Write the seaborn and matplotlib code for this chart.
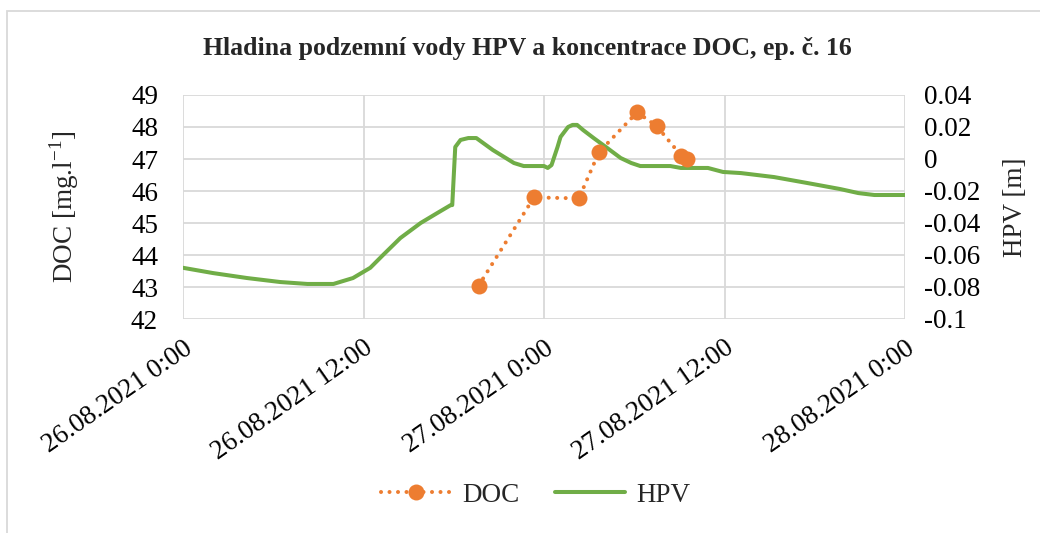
import matplotlib
matplotlib.use("Agg")
import matplotlib.pyplot as plt
import matplotlib.patches as mpatches
from matplotlib.lines import Line2D
import seaborn as sns
import pandas as pd
import numpy as np

# ---- data ----
start = pd.Timestamp("2021-08-26 00:00")
hpv_hours = [0.0, 2.0, 4.26, 6.47, 8.27, 10.0, 11.3, 12.45, 13.3, 14.45, 15.8, 16.9,
             17.8, 17.9, 18.1, 18.45, 18.97, 19.5, 20.6, 22.0, 22.65, 24.0, 24.25,
             24.5, 24.9, 25.1, 25.6, 25.9, 26.2, 26.6, 27.3, 28.2, 29.1, 29.8, 30.4,
             32.4, 33.1, 34.9, 35.9, 37.1, 39.3, 41.5, 43.7, 44.9, 45.96, 48.0]
hpv_values = [-0.068, -0.0713, -0.0744, -0.0769, -0.0781, -0.0781, -0.0744, -0.068,
              -0.060, -0.0494, -0.040, -0.0338, -0.0288, -0.0288, 0.0075, 0.0119,
              0.0131, 0.0131, 0.0056, -0.0025, -0.0044, -0.0044, -0.0056, -0.0038,
              0.0075, 0.0138, 0.020, 0.0213, 0.0213, 0.0181, 0.0131, 0.0069, 0.0006,
              -0.0025, -0.0044, -0.0044, -0.0056, -0.0056, -0.0081, -0.0088, -0.0113,
              -0.015, -0.0188, -0.0213, -0.0225, -0.0225]
doc_hours = [19.65, 23.33, 26.32, 27.65, 30.19, 31.49, 33.13, 33.49]
doc_values = [43.04, 45.80, 45.77, 47.21, 48.46, 48.03, 47.10, 46.99]
tick_hours = [0, 12, 24, 36, 48]
tick_labels = ["26.08.2021 0:00", "26.08.2021 12:00", "27.08.2021 0:00",
               "27.08.2021 12:00", "28.08.2021 0:00"]

hpv_df = pd.DataFrame({"time": start + pd.to_timedelta(hpv_hours, unit="h"),
                       "HPV": hpv_values})
doc_df = pd.DataFrame({"time": start + pd.to_timedelta(doc_hours, unit="h"),
                       "DOC": doc_values})
tick_times = start + pd.to_timedelta(tick_hours, unit="h")

sns.set_theme(style="white")
plt.rcParams["font.family"] = ["Liberation Serif", "DejaVu Serif"]
plt.rcParams["mathtext.fontset"] = "custom"
plt.rcParams["mathtext.rm"] = "Liberation Serif"

ORANGE = "#ED7D31"
GREEN = "#70AD47"
GRID = "#D9D9D9"
DOTS = (0, (0.01, 2.1))

fig = plt.figure(figsize=(10.4, 5.33), dpi=100)
ax = fig.add_axes([183/1040, 1-319/533, (905-183)/1040, (319-95)/533])
ax2 = ax.twinx()

sns.lineplot(data=hpv_df, x="time", y="HPV", ax=ax, color=GREEN, linewidth=2.9,
             legend=False, zorder=2)
sns.lineplot(data=doc_df, x="time", y="DOC", ax=ax2, color=ORANGE, linestyle=DOTS,
             linewidth=2.9, marker="o", markersize=11.5, markeredgewidth=0,
             dash_capstyle="round", legend=False, zorder=3)

# DOC axis on the left, HPV axis on the right
ax.yaxis.tick_right()
ax.yaxis.set_label_position("right")
ax2.yaxis.tick_left()
ax2.yaxis.set_label_position("left")

ax.set_ylim(-0.1, 0.04)
ax.set_yticks(np.arange(-0.1, 0.0401, 0.02))
ax.set_yticklabels(["-0.1", "-0.08", "-0.06", "-0.04", "-0.02", "0", "0.02", "0.04"])
ax2.set_ylim(42, 49)
ax2.set_yticks(range(42, 50))

ax.set_xlim(start, start + pd.Timedelta(hours=48))
ax.set_xticks(tick_times)
ax.set_xticklabels(tick_labels, rotation=35, ha="right", rotation_mode="anchor", fontsize=19.5)

for y in np.arange(-0.1, 0.0401, 0.02):
    ax.axhline(y, color=GRID, linewidth=1.3, zorder=0)
for t in tick_times:
    ax.axvline(t, color=GRID, linewidth=1.3, zorder=0)

for a in (ax, ax2):
    for s in a.spines.values():
        s.set_visible(False)
    a.tick_params(length=0, labelsize=19.5, colors="black")
    a.grid(False)
ax.tick_params(axis="x", pad=12)
ax.tick_params(axis="y", pad=14)
ax2.tick_params(axis="y", pad=18)

ax.set_xlabel("")
ax.set_ylabel("HPV [m]", fontsize=19.5, rotation=90, labelpad=16)
ax2.set_ylabel("DOC [mg.l$^{-1}$]", fontsize=19.5, labelpad=36)

fig.suptitle("Hladina podzemní vody HPV a koncentrace DOC, ep. č. 16",
             x=0.507, y=1-48/533, va="center", fontsize=18.5, fontweight="bold")

handles = [Line2D([0], [0], color=ORANGE, linestyle=DOTS, linewidth=2.9,
                  marker="o", markersize=11.5, markeredgewidth=0, dash_capstyle="round"),
           Line2D([0], [0], color=GREEN, linewidth=2.9)]
fig.legend(handles, ["DOC", "HPV"], loc="center", bbox_to_anchor=(0.515, 1-495/533),
           ncol=2, frameon=False, fontsize=19.5, handlelength=2.6, columnspacing=1.3,
           handletextpad=0.4, numpoints=1)

fig.patches.append(mpatches.Rectangle((7/1040, -0.1), 1.2, 1.1 - 11/533, transform=fig.transFigure,
                                      fill=False, edgecolor=GRID, linewidth=1.3))

fig.savefig("out.png", dpi=100)
